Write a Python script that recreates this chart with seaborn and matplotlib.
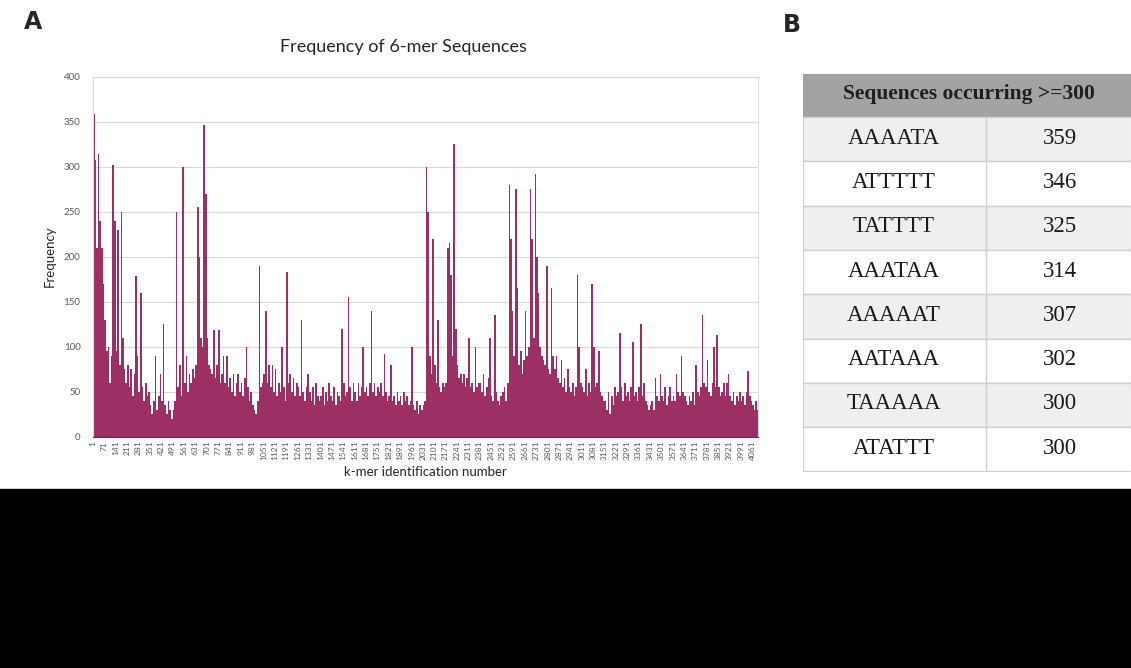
import numpy as np
import matplotlib
matplotlib.use('Agg')
import matplotlib.pyplot as plt
import seaborn as sns
from matplotlib.patches import Rectangle

# k-mer 빈도 (10개씩 묶은 구간, 그림에서 읽은 값)
freq_1_1050 = [
    359, 307, 210, 314, 240, 210, 170,
    130, 95, 100, 60, 90, 302, 240,
    95, 230, 80, 250, 110, 75, 60,
    80, 55, 75, 45, 70, 178, 90,
    50, 160, 55, 40, 60, 45, 50,
    35, 25, 40, 90, 30, 45, 70,
    40, 125, 35, 25, 40, 30, 20,
    30, 40, 250, 55, 80, 45, 300,
    60, 90, 50, 70, 60, 75, 65,
    80, 255, 200, 110, 100, 346, 270,
    110, 80, 75, 70, 118, 65, 80,
    118, 60, 70, 90, 60, 90, 55,
    65, 50, 70, 45, 60, 70, 50,
    60, 45, 65, 100, 55, 40, 50,
    35, 30, 25, 40, 190, 55, 60,
]
freq_1051_2100 = [
    70, 140, 60, 80, 55, 80, 50,
    75, 45, 60, 50, 100, 55, 40,
    183, 60, 70, 50, 65, 45, 60,
    55, 45, 130, 50, 40, 55, 70,
    50, 40, 55, 35, 60, 45, 40,
    45, 55, 35, 50, 40, 60, 45,
    40, 55, 35, 50, 45, 40, 120,
    60, 45, 50, 155, 55, 40, 60,
    50, 40, 60, 45, 55, 100, 50,
    55, 45, 60, 140, 50, 60, 45,
    55, 50, 60, 45, 92, 50, 40,
    45, 80, 40, 45, 35, 50, 40,
    45, 35, 50, 40, 45, 35, 40,
    100, 35, 30, 40, 25, 35, 30,
    35, 40, 300, 250, 90, 70, 220,
]
freq_2101_3150 = [
    80, 60, 130, 55, 50, 60, 55,
    60, 210, 215, 180, 90, 325, 120,
    80, 65, 70, 60, 70, 55, 65,
    110, 55, 60, 50, 100, 55, 60,
    60, 50, 70, 45, 55, 65, 110,
    45, 40, 135, 50, 40, 35, 45,
    50, 55, 40, 60, 280, 220, 140,
    90, 275, 165, 80, 95, 70, 85,
    140, 90, 100, 275, 220, 110, 292,
    200, 160, 100, 90, 85, 80, 190,
    75, 70, 165, 90, 75, 90, 65,
    60, 85, 55, 65, 50, 75, 55,
    50, 60, 45, 55, 180, 100, 60,
    55, 50, 75, 45, 60, 50, 170,
    100, 55, 60, 95, 50, 45, 40,
]
freq_3151_4096 = [
    40, 30, 50, 25, 45, 35, 55,
    45, 50, 115, 55, 40, 60, 45,
    50, 40, 55, 105, 45, 50, 40,
    55, 125, 45, 60, 40, 35, 30,
    35, 40, 30, 65, 45, 40, 70,
    45, 40, 55, 35, 45, 55, 40,
    45, 40, 70, 50, 45, 90, 50,
    45, 40, 35, 45, 40, 50, 35,
    80, 50, 45, 55, 135, 60, 55,
    85, 50, 45, 60, 100, 55, 113,
    55, 45, 50, 60, 45, 60, 70,
    45, 40, 50, 35, 45, 40, 50,
    40, 45, 35, 50, 73, 45, 40,
    35, 30, 40, 30,
]
freq = freq_1_1050 + freq_1051_2100 + freq_2101_3150 + freq_3151_4096
kmer_bin = np.arange(1, 4097, 10) + 4.5          # 구간 중심
tick_ids = np.arange(1, 4062, 70)

seqs = ['AAAATA', 'ATTTTT', 'TATTTT', 'AAATAA', 'AAAAAT', 'AATAAA', 'TAAAAA', 'ATATTT']
counts = [359, 346, 325, 314, 307, 302, 300, 300]

sns.set_style('white')
plt.rcParams['font.family'] = ['Lato', 'DejaVu Sans']

fig = plt.figure(figsize=(11.31, 6.68), dpi=100)

ax = fig.add_axes([0.0822, 0.3463, 0.588, 0.5389])
sns.barplot(x=kmer_bin, y=freq, native_scale=True, orient='x', color='#9C2F64',
            width=1.0, linewidth=0, errorbar=None, saturation=1, ax=ax)
ax.set_xlim(0.5, 4096.5)
ax.set_ylim(0, 400)
ax.set_yticks(range(0, 401, 50))
ax.set_xticks(tick_ids)
ax.set_xticklabels([str(t) for t in tick_ids], rotation=90, fontsize=6, color='#595959')
ax.tick_params(axis='y', labelsize=7, colors='#595959', length=0, pad=9)
ax.tick_params(axis='x', length=0, pad=3)
ax.yaxis.grid(True, color='#d9d9d9', lw=0.8)
ax.set_axisbelow(True)
for s in ax.spines.values():
    s.set_color('#d9d9d9')
    s.set_linewidth(0.8)
ax.spines['bottom'].set_color('#7a2a55')
ax.set_ylabel('Frequency', fontsize=9.5, color='#262626', labelpad=6)
ax.set_xlabel('k-mer identification number', fontsize=9.5, color='#262626', labelpad=4)
fig.text(0.357, 0.929, 'Frequency of 6-mer Sequences', ha='center', va='center',
         fontsize=13, color='#262626')

fig.text(33 / 1131, 1 - 22 / 668, 'A', fontsize=17, fontweight='bold',
         family='DejaVu Sans', ha='center', va='center')
fig.text(792 / 1131, 1 - 25 / 668, 'B', fontsize=17, fontweight='bold',
         family='DejaVu Sans', ha='center', va='center')

# 표 (B)
tax = fig.add_axes([803 / 1131, 1 - 472 / 668, 328 / 1131, 398 / 668])
tax.set_xlim(0, 328)
tax.set_ylim(398, 0)
tax.axis('off')
tax.add_patch(Rectangle((0, 0), 328, 43, color='#a3a3a3', lw=0))
tax.text(166, 19.5, 'Sequences occurring >=300', ha='center', va='center',
         fontsize=15.5, fontweight='bold', family='Liberation Serif', color='#1f1f1f')
row_h = 44.3
for i, (s, c) in enumerate(zip(seqs, counts)):
    y0 = 43 + i * row_h
    fc = '#efefef' if i % 2 == 0 else 'white'
    tax.add_patch(Rectangle((0, y0), 328, row_h, facecolor=fc, edgecolor='#d0d0d0', lw=1))
    tax.plot([183, 183], [y0, y0 + row_h], color='#d0d0d0', lw=1)
    tax.text(91, y0 + row_h / 2 - 1, s, ha='center', va='center', fontsize=16.5,
             family='Liberation Serif', color='#1a1a1a')
    tax.text(257, y0 + row_h / 2 - 1, str(c), ha='center', va='center', fontsize=16.5,
             family='Liberation Serif', color='#1a1a1a')

fig.patches.append(Rectangle((0, 0), 1, 1 - 489 / 668, transform=fig.transFigure,
                             color='black', zorder=10))

fig.savefig('out.png', dpi=100)
